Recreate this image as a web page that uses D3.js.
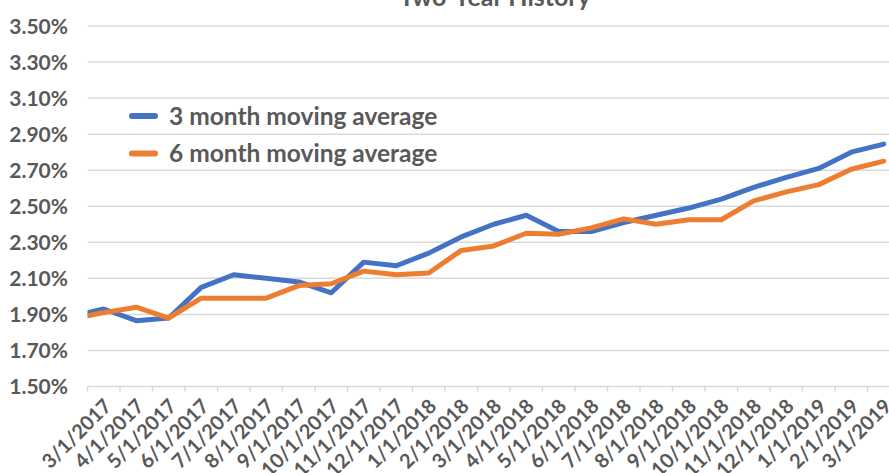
<!DOCTYPE html>
<html>
<head>
<meta charset="utf-8">
<script src="https://cdn.jsdelivr.net/npm/d3@7"></script>
<style>
  body { margin: 0; background: #fff; }
  svg { display: block; }
  text { font-family: Lato, "Open Sans", sans-serif; font-weight: bold; fill: #595959; }
</style>
</head>
<body>
<svg width="889" height="473"></svg>
<script>
// month labels shown on the axis
var months = ["3/1/2017", "4/1/2017", "5/1/2017", "6/1/2017", "7/1/2017", "8/1/2017", "9/1/2017",
    "10/1/2017", "11/1/2017", "12/1/2017", "1/1/2018", "2/1/2018", "3/1/2018", "4/1/2018",
    "5/1/2018", "6/1/2018", "7/1/2018", "8/1/2018", "9/1/2018", "10/1/2018", "11/1/2018",
    "12/1/2018", "1/1/2019", "2/1/2019", "3/1/2019"];

// first value is 2/1/2017, which sits left of the axis minimum and gets clipped
var avg3 = [1.89, 1.93, 1.865, 1.88, 2.05, 2.12, 2.10, 2.08, 2.02, 2.19, 2.17, 2.24, 2.33, 2.40,
    2.45, 2.36, 2.36, 2.41, 2.45, 2.49, 2.54, 2.605, 2.66, 2.71, 2.80, 2.845];
var avg6 = [1.875, 1.91, 1.94, 1.88, 1.99, 1.99, 1.99, 2.06, 2.07, 2.14, 2.12, 2.13, 2.255, 2.28,
    2.35, 2.345, 2.38, 2.43, 2.40, 2.425, 2.425, 2.53, 2.58, 2.62, 2.705, 2.75];

var seriesNames = ["3 month moving average", "6 month moving average"];
var colors = ["#4472C4", "#ED7D31"];
var yTicks = [1.5, 1.7, 1.9, 2.1, 2.3, 2.5, 2.7, 2.9, 3.1, 3.3, 3.5];

var svg = d3.select("svg"),
    plotLeft = 87.5, plotRight = 900, plotTop = 26, plotBottom = 386.5;

// month index: 0 = 3/1/2017, points sit between the tick marks
var x = d3.scaleLinear().domain([-0.5, months.length - 0.5]).range([plotLeft, plotRight]),
    y = d3.scaleLinear().domain([1.5, 3.5]).range([plotBottom, plotTop]);

svg.append("defs").append("clipPath").attr("id", "plot")
    .append("rect").attr("x", plotLeft).attr("y", 0)
    .attr("width", plotRight - plotLeft).attr("height", plotBottom + 5);

// title (cut off by the top edge)
svg.append("text")
    .attr("x", 495).attr("y", 5.5)
    .attr("text-anchor", "middle")
    .style("font-size", "25px")
    .text("Two-Year History");

// gridlines
svg.append("g").selectAll("line")
    .data(yTicks)
    .enter().append("line")
    .attr("x1", plotLeft).attr("x2", plotRight)
    .attr("y1", function (d) { return y(d); })
    .attr("y2", function (d) { return y(d); })
    .attr("stroke", "#d9d9d9")
    .attr("stroke-width", 1.5);

svg.append("g").selectAll("text")
    .data(yTicks)
    .enter().append("text")
    .attr("x", 68)
    .attr("y", function (d) { return y(d); })
    .attr("dy", "0.36em")
    .attr("text-anchor", "end")
    .style("font-size", "21px")
    .text(function (d) { return d.toFixed(2) + "%"; });

// category axis tick marks
var tickPos = d3.range(months.length + 1).map(function (i) { return i - 0.5; });
svg.append("g").selectAll("line")
    .data(tickPos)
    .enter().append("line")
    .attr("x1", function (d) { return x(d); })
    .attr("x2", function (d) { return x(d); })
    .attr("y1", plotBottom).attr("y2", plotBottom + 5)
    .attr("stroke", "#d9d9d9")
    .attr("stroke-width", 1.5);

svg.append("g").selectAll("text")
    .data(months)
    .enter().append("text")
    .attr("text-anchor", "end")
    .attr("transform", function (d, i) {
        return "translate(" + (x(i) + 4) + "," + (plotBottom + 16) + ") rotate(-45)";
    })
    .attr("dy", "0.35em")
    .style("font-size", "20px")
    .text(function (d) { return d; });

var line = d3.line()
    .x(function (d, i) { return x(i - 1); })
    .y(function (d) { return y(d); });

svg.append("g").attr("clip-path", "url(#plot)")
    .selectAll("path")
    .data([avg3, avg6])
    .enter().append("path")
    .attr("d", function (d) { return line(d); })
    .attr("fill", "none")
    .attr("stroke", function (d, i) { return colors[i]; })
    .attr("stroke-width", 5)
    .attr("stroke-linejoin", "round")
    .attr("stroke-linecap", "round");

// legend
var legend = svg.append("g").selectAll("g")
    .data(seriesNames)
    .enter().append("g")
    .attr("transform", function (d, i) { return "translate(130," + (116 + i * 37.5) + ")"; });

legend.append("line")
    .attr("x1", 2).attr("x2", 25)
    .attr("stroke", function (d, i) { return colors[i]; })
    .attr("stroke-width", 6)
    .attr("stroke-linecap", "round");

legend.append("text")
    .attr("x", 39)
    .attr("dy", "0.36em")
    .style("font-size", "24.5px")
    .text(function (d) { return d; });
</script>
</body>
</html>
